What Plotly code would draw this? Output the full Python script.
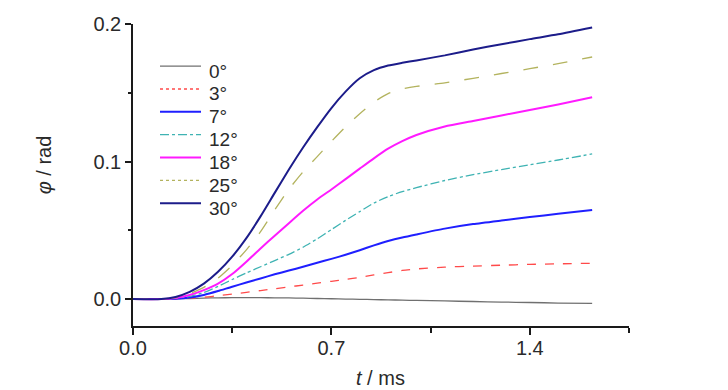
import plotly.graph_objects as go

t = [0.0, 0.1, 0.15, 0.2, 0.25, 0.3, 0.35, 0.4, 0.45, 0.5, 0.55, 0.6, 0.65, 0.7, 0.75,
     0.8, 0.85, 0.9, 0.95, 1.0, 1.1, 1.2, 1.3, 1.4, 1.5, 1.62]

labels = ["0°", "3°", "7°", "12°", "18°", "25°", "30°"]
phi_0 = [0, 0, 0.0001, 0.0004, 0.0007, 0.0009, 0.001, 0.001, 0.001, 0.0009, 0.0008, 0.0006, 0.0004,
         0.0002, 0.0, -0.0002, -0.0004, -0.0006, -0.0008, -0.001, -0.0014, -0.0018, -0.0022, -0.0025, -0.0029, -0.0032]
phi_3 = [0, 0, 0.0002, 0.0006, 0.0013, 0.0024, 0.0036, 0.0049, 0.0062, 0.0075, 0.0088, 0.0102, 0.0116,
         0.0129, 0.0143, 0.0158, 0.0175, 0.0192, 0.0208, 0.0219, 0.0232, 0.024, 0.0246, 0.0252, 0.0256, 0.026]
phi_7 = [0, 0, 0.0003, 0.0012, 0.003, 0.0058, 0.009, 0.012, 0.015, 0.018, 0.0207, 0.0235, 0.0264,
         0.0292, 0.0322, 0.0355, 0.039, 0.0422, 0.0448, 0.047, 0.0512, 0.0545, 0.0571, 0.0596, 0.062, 0.0647]
phi_12 = [0, 0, 0.0005, 0.002, 0.0048, 0.0092, 0.0142, 0.019, 0.0235, 0.028, 0.0325, 0.0377, 0.0438,
          0.0505, 0.0572, 0.0636, 0.0698, 0.0745, 0.0781, 0.081, 0.0862, 0.0905, 0.0941, 0.0976, 0.1011, 0.1055]
phi_18 = [0, 0, 0.0008, 0.003, 0.0065, 0.0112, 0.0182, 0.0272, 0.0368, 0.0461, 0.0552, 0.0642, 0.0724,
          0.0797, 0.0872, 0.0948, 0.1023, 0.1093, 0.1148, 0.1193, 0.1255, 0.1295, 0.1335, 0.1375, 0.1415, 0.1467]
phi_25 = [0, 0, 0.001, 0.004, 0.0085, 0.0152, 0.0245, 0.0358, 0.049, 0.0648, 0.0798, 0.0925, 0.1036,
          0.1146, 0.1252, 0.1348, 0.1432, 0.1494, 0.1528, 0.1546, 0.1572, 0.1605, 0.164, 0.1675, 0.1712, 0.176]
phi_30 = [0, 0, 0.0015, 0.0052, 0.0112, 0.0198, 0.0308, 0.0443, 0.0601, 0.0772, 0.0942, 0.1102, 0.1250,
          0.1389, 0.1508, 0.1605, 0.1664, 0.1698, 0.1718, 0.1735, 0.1772, 0.1815, 0.1853, 0.189, 0.1925, 0.1975]

series = [phi_0, phi_3, phi_7, phi_12, phi_18, phi_25, phi_30]
colors = ["#707070", "#ff4a4a", "#1f1fff", "#3fb3b3", "#ff1aff", "#b3b35e", "#1c1c8a"]
dashes = ["solid", "dash", "solid", "dashdot", "solid", "longdash", "solid"]
legend_dashes = ["solid", "dot", "solid", "dashdot", "solid", "dot", "solid"]
widths = [1.3, 1.3, 2, 1.3, 2, 1.3, 2]

FONT = "Liberation Sans, Arial, sans-serif"
TXT = "#2a2a2a"

# plot area in pixels
L, R, T, B = 133, 629, 23.5, 326
W, H = 728, 390


def px(x):
    return (x - L) / (R - L)


def py(y):
    return 1 - (y - T) / (B - T)


fig = go.Figure()
for lab, y, c, d, w in zip(labels, series, colors, dashes, widths):
    fig.add_trace(go.Scatter(x=t, y=y, mode="lines", name=lab, showlegend=False,
                             line=dict(color=c, dash=d, width=w, shape="spline", smoothing=0.6)))

# legend (drawn manually for tight spacing)
shapes = []
annotations = []
for i, (lab, c, d, w) in enumerate(zip(labels, colors, legend_dashes, widths)):
    yc = 65.7 + i * 22.9
    shapes.append(dict(type="line", xref="paper", yref="paper", x0=px(160), x1=px(201),
                       y0=py(yc), y1=py(yc), line=dict(color=c, dash=d, width=w)))
    annotations.append(dict(text=lab, xref="paper", yref="paper", x=px(207), y=py(yc + 5),
                            xanchor="left", yanchor="middle", showarrow=False,
                            font=dict(family=FONT, size=19, color=TXT)))

annotations.append(dict(text="<i>t</i> / ms", xref="paper", yref="paper", x=px(380), y=py(378),
                        xanchor="center", yanchor="middle", showarrow=False,
                        font=dict(family=FONT, size=20, color=TXT)))
annotations.append(dict(text="<i>φ</i> / rad", xref="paper", yref="paper", x=px(44), y=py(165),
                        xanchor="center", yanchor="middle", showarrow=False, textangle=-90,
                        font=dict(family=FONT, size=20, color=TXT)))

tick_font = dict(family=FONT, size=20, color=TXT)
fig.update_layout(
    width=W, height=H,
    margin=dict(l=L, r=W - R, t=T, b=H - B, autoexpand=False),
    paper_bgcolor="white", plot_bgcolor="white",
    showlegend=False,
    shapes=shapes, annotations=annotations,
    xaxis=dict(range=[0, 1.75], tickvals=[0, 0.7, 1.4], tickformat=".1f", tickfont=tick_font,
               automargin=False, ticklabelstandoff=-4,
               showgrid=False, zeroline=False, showline=True, linecolor="#1a1a1a", linewidth=1.5,
               ticks="outside", ticklen=7, tickwidth=1.5, tickcolor="#1a1a1a",
               minor=dict(tickvals=[0.35, 1.05, 1.75], ticks="outside", ticklen=5, tickwidth=1.5,
                          tickcolor="#1a1a1a")),
    yaxis=dict(range=[-0.0196, 0.2], tickvals=[0, 0.1, 0.2], tickformat=".1f", tickfont=tick_font,
               automargin=False,
               showgrid=False, zeroline=False, showline=True, linecolor="#1a1a1a", linewidth=1.5,
               ticks="outside", ticklen=6, tickwidth=1.5, tickcolor="#1a1a1a",
               minor=dict(tickvals=[0.05, 0.15], ticks="outside", ticklen=3, tickwidth=1.5,
                          tickcolor="#1a1a1a")),
)
fig.write_html("out.html", config={"displayModeBar": False},
               post_script="document.body.style.margin='0';document.body.style.overflow='hidden';")
